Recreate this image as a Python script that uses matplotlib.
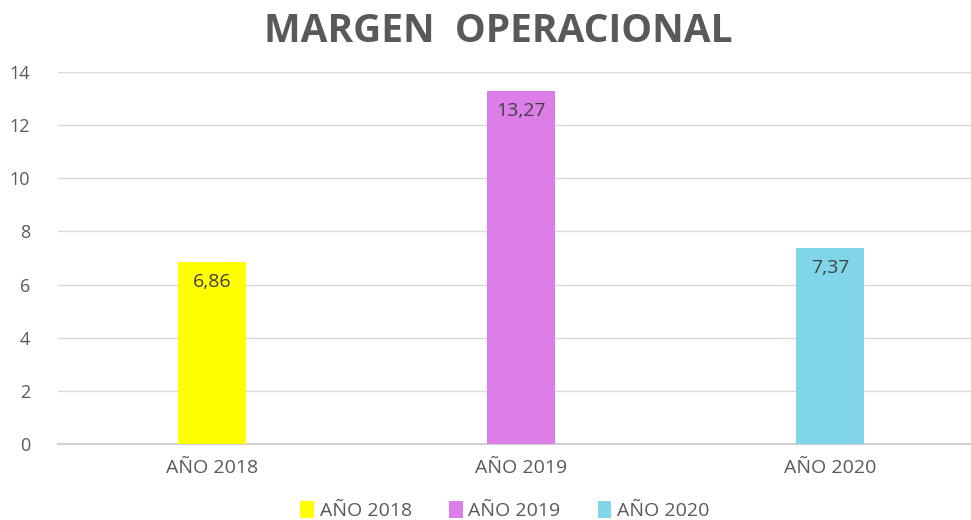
import matplotlib
matplotlib.use("Agg")
import matplotlib.pyplot as plt
from matplotlib.patches import Patch

categories = ["AÑO 2018", "AÑO 2019", "AÑO 2020"]
values = [6.86, 13.27, 7.37]
labels = ["6,86", "13,27", "7,37"]
colors = ["#FFFF00", "#DD7EE8", "#80D6E8"]
yticks = [0, 2, 4, 6, 8, 10, 12, 14]

plt.rcParams['font.family'] = ['Open Sans', 'DejaVu Sans']

fig = plt.figure(figsize=(9.71, 5.2), dpi=100)
ax = fig.add_axes([58/971, (520-444)/520, (971-58)/971, (444-72)/520])

x = list(range(len(categories)))
bars = ax.bar(x, values, width=0.22, color=colors, zorder=3)
for b, lab in zip(bars, labels):
    ax.annotate(lab, (b.get_x() + b.get_width()/2, b.get_height()),
                xytext=(0, -20), textcoords="offset pixels",
                ha="center", va="center", fontsize=14, color="#404040", zorder=4)

ax.set_xlim(-0.5, (971-212)/309)
ax.set_ylim(0, 14)
ax.set_yticks(yticks)
ax.set_yticklabels([str(t) for t in yticks])
ax.set_xticks(x)
ax.set_xticklabels(categories)
ax.tick_params(axis='both', length=0, labelsize=14, colors="#595959")
ax.tick_params(axis='y', pad=20, labelsize=13)
ax.tick_params(axis='x', pad=11)
ax.grid(axis='y', color="#D9D9D9", linewidth=1, zorder=0)
for s in ["top", "right", "left"]:
    ax.spines[s].set_visible(False)
ax.spines["bottom"].set_color("#D0D0D0")
ax.spines["bottom"].set_linewidth(1.5)

fig.text(0.513, 0.94, "MARGEN  OPERACIONAL", ha="center", va="center",
         fontsize=28, fontweight="bold", color="#595959")

handles = [Patch(facecolor=c, edgecolor="none") for c in colors]
fig.legend(handles, categories, loc="center", bbox_to_anchor=(0.52, 0.018),
           ncol=3, frameon=False, fontsize=14, handlelength=0.7, handleheight=1.0,
           handletextpad=0.3, columnspacing=1.9, labelcolor="#595959")

fig.savefig("out.png", dpi=100)
